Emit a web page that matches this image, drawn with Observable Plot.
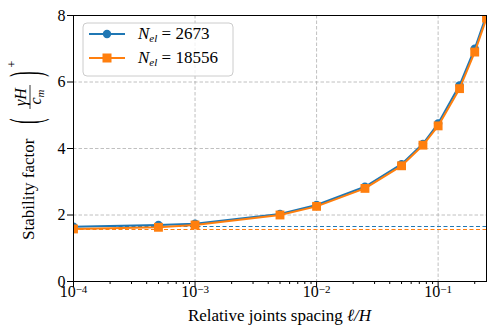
<!DOCTYPE html>
<html><head><meta charset="utf-8">
<script src="https://cdn.jsdelivr.net/npm/d3@7"></script>
<script src="https://cdn.jsdelivr.net/npm/@observablehq/plot@0.6"></script>
<style>body{margin:0;background:#fff} #chart{width:499px;height:336px}</style>
</head><body><div id="chart"></div>
<script>
// Relative joint spacing l/H
const spacing = [1e-4, 5e-4, 1e-3, 5e-3, 1e-2, 2.5e-2, 5e-2, 7.5e-2, 1e-1, 1.5e-1, 2e-1, 2.5e-1];
// Stability factor for N_el = 2673
const coarse = [1.65, 1.70, 1.74, 2.03, 2.30, 2.85, 3.53, 4.14, 4.75, 5.90, 7.00, 8.02];
// Stability factor for N_el = 18556
const fine = [1.58, 1.63, 1.70, 2.00, 2.26, 2.80, 3.48, 4.10, 4.68, 5.80, 6.90, 7.92];
const seriesNames = ["2673", "18556"];
// Continuum (no joints) limits drawn dashed
const limitValues = [1.654, 1.564];
const xMajorTicks = [1e-4, 1e-3, 1e-2, 1e-1];
const xMinorTicks = [2e-4,3e-4,4e-4,5e-4,6e-4,7e-4,8e-4,9e-4,
                     2e-3,3e-3,4e-3,5e-3,6e-3,7e-3,8e-3,9e-3,
                     2e-2,3e-2,4e-2,5e-2,6e-2,7e-2,8e-2,9e-2,
                     2e-1];
const yTicks = [0, 2, 4, 6, 8];
const colors = ["#1f77b4", "#ff7f0e"];

const coarseRows = spacing.map((s, i) => ({x: s, y: coarse[i]}));
const fineRows = spacing.map((s, i) => ({x: s, y: fine[i]}));

const font = "Liberation Serif, DejaVu Serif, serif";
const gridStyle = {stroke: "#b0b0b0", strokeOpacity: 1, strokeDasharray: "3.5,2", strokeWidth: 0.8};

const plot = Plot.plot({
  width: 499, height: 336,
  marginLeft: 73, marginRight: 13, marginTop: 15, marginBottom: 55,
  style: {fontFamily: font, fontSize: "16px", color: "black", background: "white"},
  x: {type: "log", domain: [1e-4, 0.25]},
  y: {domain: [0, 8]},
  marks: [
    Plot.gridX(xMajorTicks.slice(1), gridStyle),
    Plot.gridY(yTicks.slice(1, -1), gridStyle),
    Plot.ruleY([limitValues[0]], {stroke: colors[0], strokeDasharray: "4,2.5", strokeWidth: 1.2}),
    Plot.ruleY([limitValues[1]], {stroke: colors[1], strokeDasharray: "4,2.5", strokeWidth: 1.2}),
    Plot.line(coarseRows, {x: "x", y: "y", stroke: colors[0], strokeWidth: 2, clip: true}),
    Plot.dot(coarseRows, {x: "x", y: "y", r: 4.2, fill: colors[0], stroke: null, clip: true}),
    Plot.line(fineRows, {x: "x", y: "y", stroke: colors[1], strokeWidth: 2, clip: true}),
    Plot.dot(fineRows, {x: "x", y: "y", symbol: "square", r: 5, fill: colors[1], stroke: null, clip: true}),
    Plot.frame({stroke: "black", strokeWidth: 1}),
    Plot.axisY(yTicks, {tickSize: 6, tickPadding: 2, label: null}),
    Plot.axisX(xMajorTicks, {tickSize: 6, tickPadding: -1.5, label: null,
      tickFormat: d => "10^" + Math.round(Math.log10(d))}),
    Plot.axisX(xMinorTicks, {tickSize: 3, tickFormat: () => "", label: null})
  ]
});
document.getElementById("chart").appendChild(plot);

const svg = d3.select(plot);
// tick label font
svg.selectAll('g[aria-label$="tick label"] text')
  .style("font-family", font).style("font-size", "16px").style("font-variant", "normal");
// superscript exponents on x tick labels
svg.selectAll('g[aria-label="x-axis tick label"] text').each(function() {
  const t = this.textContent;
  if (!t.startsWith("10^")) return;
  const e = t.slice(3).replace("-", "\u2212");
  const sel = d3.select(this);
  sel.text("10");
  sel.append("tspan").attr("dy", "-0.42em").style("font-size", "11px").text(e);
});

// x label
const xl = svg.append("text").attr("x", 279.5).attr("y", 321).attr("text-anchor", "middle")
  .attr("font-family", font).attr("font-size", 17).attr("fill", "black");
xl.append("tspan").text("Relative joints spacing ");
xl.append("tspan").attr("font-style", "italic").text("\u2113/H");

// y label (rotated)
const yl = svg.append("g").attr("transform", "translate(34,240) rotate(-90)")
  .attr("font-family", font).attr("fill", "black").attr("text-anchor", "start");
yl.append("text").attr("x", 0).attr("y", 0).attr("font-size", 17).attr("text-anchor", "start").text("Stability factor");
yl.append("g").attr("transform", "translate(119,-4.5) scale(1,2.8)")
  .append("text").attr("text-anchor", "middle").attr("y", 3.8).attr("font-size", 16).text("(");
yl.append("g").attr("transform", "translate(166,-4.5) scale(1,2.8)")
  .append("text").attr("text-anchor", "middle").attr("y", 3.8).attr("font-size", 16).text(")");
yl.append("text").attr("x", 143).attr("y", -8).attr("text-anchor", "middle")
  .attr("font-size", 16).attr("font-style", "italic").text("\u03B3H");
yl.append("line").attr("x1", 131).attr("x2", 155).attr("y1", -4).attr("y2", -4)
  .attr("stroke", "black").attr("stroke-width", 0.8);
const den = yl.append("text").attr("x", 143).attr("y", 7).attr("text-anchor", "middle")
  .attr("font-size", 16).attr("font-style", "italic");
den.append("tspan").text("c");
den.append("tspan").attr("font-size", 11).attr("dy", 3).text("m");
yl.append("text").attr("x", 176).attr("y", -18.5).attr("text-anchor", "middle")
  .attr("font-size", 12).text("+");

// legend
const lg = svg.append("g").attr("font-family", font).attr("fill", "black").attr("text-anchor", "start");
lg.append("rect").attr("x", 83).attr("y", 23).attr("width", 150).attr("height", 53).attr("rx", 4)
  .attr("fill", "white").attr("fill-opacity", 0.8).attr("stroke", "#cccccc").attr("stroke-width", 1);
const entryY = [34, 58];
seriesNames.forEach((name, i) => {
  const y = entryY[i];
  lg.append("line").attr("x1", 89).attr("x2", 125).attr("y1", y).attr("y2", y)
    .attr("stroke", colors[i]).attr("stroke-width", 2);
  if (i === 0) lg.append("circle").attr("cx", 107).attr("cy", y).attr("r", 4.2).attr("fill", colors[i]);
  else lg.append("rect").attr("x", 107 - 4.5).attr("y", y - 4.5).attr("width", 9).attr("height", 9).attr("fill", colors[i]);
  const t = lg.append("text").attr("x", 138).attr("y", y + 5).attr("font-size", 17).attr("text-anchor", "start");
  t.append("tspan").attr("font-style", "italic").text("N");
  t.append("tspan").attr("font-style", "italic").attr("font-size", 11).attr("dy", 3).text("el");
  t.append("tspan").attr("dy", -3).text(" = " + name);
});
</script>
</body></html>
